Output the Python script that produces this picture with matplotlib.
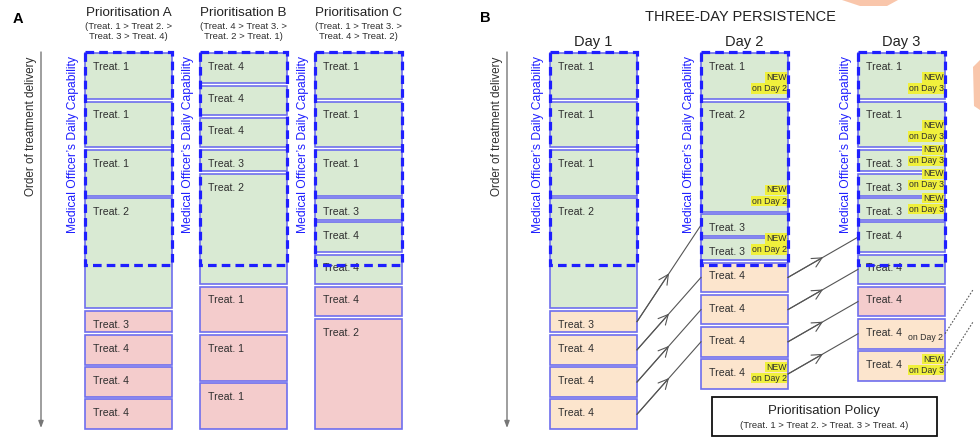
import matplotlib.pyplot as plt
from matplotlib.patches import Rectangle, Polygon

plt.rcParams['font.family'] = ['Liberation Sans', 'DejaVu Sans']

# length of each treatment (same unit as the daily capability)
treat_len = {1: 3.0, 2: 7.0, 3: 1.5, 4: 2.0}
daily_capability = 13.2

# Panel A: one day, three prioritisation rules
prio_names = ["Prioritisation A", "Prioritisation B", "Prioritisation C"]
prio_rules = ["(Treat. 1 > Treat 2. >\nTreat. 3 > Treat. 4)",
              "(Treat. 4 > Treat 3. >\nTreat. 2 > Treat. 1)",
              "(Treat. 1 > Treat 3. >\nTreat. 4 > Treat. 2)"]
prio_queues = [[1, 1, 1, 2, 3, 4, 4, 4],
               [4, 4, 4, 3, 2, 1, 1, 1],
               [1, 1, 1, 3, 4, 4, 4, 2]]

# Panel B: three days with persistence
day_names = ["Day 1", "Day 2", "Day 3"]
day_queues = [[1, 1, 1, 2, 3, 4, 4, 4],
              [1, 2, 3, 3, 4, 4, 4, 4],
              [1, 1, 3, 3, 3, 4, 4, 4, 4, 4]]
day_status = [["done"] * 4 + ["wait"] * 4,
              ["done"] * 4 + ["wait"] * 4,
              ["done"] * 7 + ["drop", "wait", "wait"]]
day_arrival = [[1] * 8,
               [2, 2, 1, 2, 1, 1, 1, 2],
               [3, 3, 3, 3, 3, 1, 1, 1, 2, 3]]
carry_12 = [(4, 2), (5, 4), (6, 5), (7, 6)]
carry_23 = [(4, 5), (5, 6), (6, 7), (7, 8)]
carry_next = [8, 9]
policy_rule = "(Treat. 1 > Treat 2. > Treat. 3 > Treat. 4)"

# layout (pixels)
TOP, UNIT, GAP, COL_W = 52, 16.1, 2.6, 87
prio_x = [85, 200, 315]
day_x = [550, 701, 858]

EDGE = "#6e6eee"
DASH = "#1f1fff"
fills = {"done": "#d9ead3", "miss": "#f4cccc", "drop": "#f4cccc", "wait": "#fce5cd"}
TXT = "#2e2e2e"

fig = plt.figure(figsize=(9.8, 4.38), dpi=100)
ax = fig.add_axes([0, 0, 1, 1])
ax.set_xlim(0, 980)
ax.set_ylim(438, 0)
ax.axis("off")


def ypx(u):
    return TOP + u * UNIT


def stack(queue):
    starts, s = [], 0.0
    for t in queue:
        starts.append(s)
        s += treat_len[t]
    return starts


def draw_column(x, queue, status):
    starts = stack(queue)
    for t, s, st in zip(queue, starts, status):
        ax.add_patch(Rectangle((x, ypx(s) + GAP / 2), COL_W, treat_len[t] * UNIT - GAP,
                               fc=fills[st], ec=EDGE, lw=1.2, zorder=2))
        ax.text(x + 8, ypx(s) + 15, f"Treat. {t}", fontsize=7.6, color=TXT,
                va="center", zorder=4)
    ax.add_patch(Rectangle((x, TOP), COL_W, daily_capability * UNIT, fill=False,
                           ec=DASH, lw=2.3, ls=(0, (2.7, 1.6)), zorder=5))
    ax.text(x - 12, TOP + 4, "Medical Officer’s Daily Capability", rotation=90,
            ha="center", va="top", fontsize=8.7, color=DASH)
    return starts


def order_axis(x):
    ax.annotate("", xy=(x, 428), xytext=(x, 52),
                arrowprops=dict(arrowstyle="-|>,head_length=0.4,head_width=0.15",
                                color="#777777", lw=1, shrinkA=0, shrinkB=0))
    ax.text(x - 10, 57, "Order of treatment delivery", rotation=90, ha="center",
            va="top", fontsize=8.5, color=TXT)


def carry(x0, y0, x1, y1):
    ax.plot([x0, x1], [y0, y1], color="#555555", lw=0.8, zorder=3)
    ax.annotate("", xy=((x0 + x1) / 2, (y0 + y1) / 2), xytext=(x0, y0),
                arrowprops=dict(arrowstyle="->,head_length=0.7,head_width=0.35",
                                color="#555555", lw=0.8, shrinkA=0, shrinkB=0,
                                mutation_scale=10), zorder=3)


def tag(xr, yb, day, new=True):
    kw = dict(fontsize=6.3, ha="right", va="center", color=TXT, zorder=4.5)
    if new:
        bb = dict(boxstyle="square,pad=0.08", fc="#f0f03c", ec="none")
        ax.text(xr, yb - 12, f"on Day {day}", bbox=bb, **kw)
        ax.text(xr, yb - 23, "NEW", bbox=bb, **kw)
    else:
        ax.text(xr, yb - 12, f"on Day {day}", **kw)


# faint watermark shapes
for pts in [[(842, 0), (898, 0), (887, 6), (860, 6)],
            [(980, 60), (973, 67), (974, 106), (980, 110)]]:
    ax.add_patch(Polygon(pts, closed=True, fc="#f9c6ab", ec="none", zorder=0))

# ---- panel A
ax.text(18, 19, "A", fontsize=10.5, fontweight="bold", ha="center", va="center")
order_axis(41)
for x, name, rule, queue in zip(prio_x, prio_names, prio_rules, prio_queues):
    status = ["done" if s < daily_capability else "miss" for s in stack(queue)]
    draw_column(x, queue, status)
    cx = x + COL_W / 2
    ax.text(cx, 13, name, fontsize=9.6, ha="center", va="center", color="#222222")
    ax.text(cx, 31.5, rule, fontsize=6.8, ha="center", va="center", color=TXT,
            linespacing=1.25)

# ---- panel B
ax.text(485, 18, "B", fontsize=10.5, fontweight="bold", ha="center", va="center")
ax.text(740, 17, "THREE-DAY PERSISTENCE", fontsize=10.5, ha="center", va="center",
        color="#222222")
order_axis(507)
day_starts = []
for d, (x, name, queue, status, arr) in enumerate(
        zip(day_x, day_names, day_queues, day_status, day_arrival), start=1):
    starts = draw_column(x, queue, status)
    day_starts.append(starts)
    ax.text(x + COL_W / 2, 42, name, fontsize=10.5, ha="center", va="center",
            color="#222222")
    for t, s, a in zip(queue, starts, arr):
        yb = ypx(s + treat_len[t])
        if a == d and d > 1:
            tag(x + COL_W - 1.5, yb, d)
        elif a > 1 and a < d:
            tag(x + COL_W - 2, yb, a, new=False)


def mid(day, i):
    s = day_starts[day][i]
    return ypx(s + treat_len[day_queues[day][i]] / 2)


for i, j in carry_12:
    carry(day_x[0] + COL_W, mid(0, i), day_x[1], mid(1, j))
for i, j in carry_23:
    carry(day_x[1] + COL_W, mid(1, i), day_x[2], mid(2, j))
for i in carry_next:
    y0 = mid(2, i)
    ax.plot([day_x[2] + COL_W, day_x[2] + COL_W + 28], [y0, y0 - 44],
            color="#555555", lw=0.8, ls=(0, (1.5, 1.5)), zorder=3)

# policy box
ax.add_patch(Rectangle((712, 397), 225, 39, fill=False, ec="#111111", lw=1.3))
ax.text(824, 411, "Prioritisation Policy", fontsize=9.5, ha="center", va="center",
        color="#222222")
ax.text(824, 426, policy_rule, fontsize=6.8, ha="center", va="center", color=TXT)

fig.savefig("out.png", dpi=100)
